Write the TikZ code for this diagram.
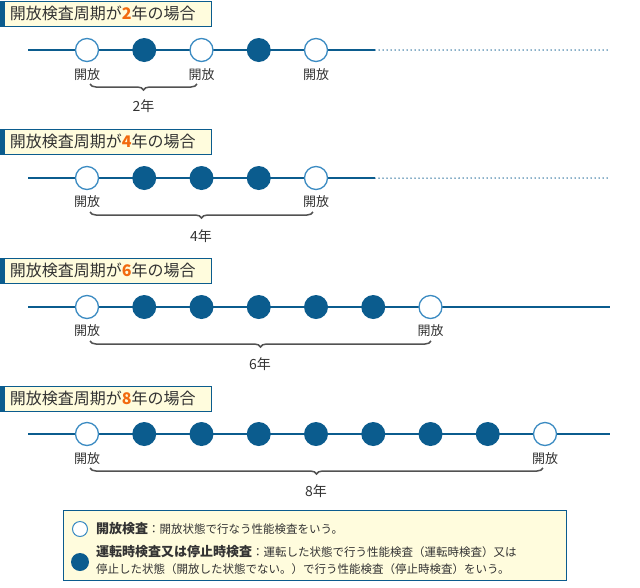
\documentclass[tikz,border=0pt]{standalone}
\usepackage{fontspec}
\setmainfont{Noto Sans CJK JP}
\usetikzlibrary{decorations.pathreplacing}
\definecolor{dblue}{HTML}{0B5C8E}
\definecolor{lblue}{HTML}{3B8BC2}
\definecolor{hfill}{HTML}{FFFCDD}
\definecolor{ora}{HTML}{F26A10}
\definecolor{txt}{HTML}{333333}
\tikzset{
 hdr/.style={draw=dblue,fill=hfill,line width=0.8pt,minimum height=25pt,anchor=north west,inner sep=0pt,font=\fontsize{16}{16}\selectfont,text=txt},
 opn/.style={circle,draw=lblue,fill=white,line width=1.3pt,minimum size=23pt,inner sep=0pt},
 cls/.style={circle,fill=dblue,minimum size=24pt,inner sep=0pt},
 tl/.style={draw=dblue,line width=1.3pt},
 tld/.style={draw=dblue,line width=1.5pt,line cap=round,dash pattern=on 0pt off 4pt},
 lbl/.style={font=\fontsize{13}{13}\selectfont,text=txt},
 brc/.style={draw=txt!85,line width=1.5pt,decorate,decoration={brace,mirror,amplitude=6pt}},
}
\newcommand{\hd}[3]{\node[hdr,text width=206pt,minimum width=211pt,align=left] (#1) at (0,#2) {\hspace{7pt}開放検査周期が\textcolor{ora}{\textbf{#3}}年の場合};
 \fill[dblue] (0,#2) rectangle (5,#2+25);}
\begin{document}
\begin{tikzpicture}[x=1pt,y=-1pt]
\useasboundingbox (0,0) rectangle (640,587);
% row 1
\hd{h1}{1}{2}
\coordinate (s1) at (28,50); \coordinate (m1) at (375,50); \coordinate (e1) at (610,50);
\draw[tl] (s1) -- (m1); \draw[tld] (m1) -- (e1);
\foreach \i/\t in {0/opn,1/cls,2/opn,3/cls,4/opn} \node[\t] (r1c\i) at (87+57.25*\i,50) {};
\foreach \i in {0,2,4} \node[lbl] (r1l\i) at (87+57.25*\i,75) {開放};
\coordinate (b1a) at (90,84); \coordinate (b1b) at (197,84);
\draw[brc] (b1a) -- (b1b);
\node[lbl,font=\fontsize{14}{14}\selectfont] (y1) at (143.5,106) {2年};
% row 2
\hd{h2}{129}{4}
\coordinate (s2) at (28,178); \coordinate (m2) at (375,178); \coordinate (e2) at (610,178);
\draw[tl] (s2) -- (m2); \draw[tld] (m2) -- (e2);
\foreach \i/\t in {0/opn,1/cls,2/cls,3/cls,4/opn} \node[\t] (r2c\i) at (87+57.25*\i,178) {};
\foreach \i in {0,4} \node[lbl] (r2l\i) at (87+57.25*\i,202) {開放};
\coordinate (b2a) at (90,212); \coordinate (b2b) at (313,212);
\draw[brc] (b2a) -- (b2b);
\node[lbl,font=\fontsize{14}{14}\selectfont] (y2) at (201,236) {4年};
% row 3
\hd{h3}{258}{6}
\coordinate (s3) at (28,307); \coordinate (e3) at (610,307);
\draw[tl] (s3) -- (e3);
\foreach \i/\t in {0/opn,1/cls,2/cls,3/cls,4/cls,5/cls,6/opn} \node[\t] (r3c\i) at (87+57.25*\i,307) {};
\foreach \i in {0,6} \node[lbl] (r3l\i) at (87+57.25*\i,331) {開放};
\coordinate (b3a) at (90,341); \coordinate (b3b) at (431,341);
\draw[brc] (b3a) -- (b3b);
\node[lbl,font=\fontsize{14}{14}\selectfont] (y3) at (260,364) {6年};
% row 4
\hd{h4}{386}{8}
\coordinate (s4) at (28,434); \coordinate (e4) at (610,434);
\draw[tl] (s4) -- (e4);
\foreach \i/\t in {0/opn,1/cls,2/cls,3/cls,4/cls,5/cls,6/cls,7/cls,8/opn} \node[\t] (r4c\i) at (87+57.25*\i,434) {};
\foreach \i in {0,8} \node[lbl] (r4l\i) at (87+57.25*\i,459) {開放};
\coordinate (b4a) at (90,468); \coordinate (b4b) at (543,468);
\draw[brc] (b4a) -- (b4b);
\node[lbl,font=\fontsize{14}{14}\selectfont] (y4) at (316,491) {8年};
% legend
\node[draw=dblue,fill=hfill,line width=0.8pt,minimum width=503pt,minimum height=70pt,anchor=north west,inner sep=0pt] (leg) at (63,510) {};
\node[opn,minimum size=15pt,line width=1pt] (lo) at (80,529) {};
\node[cls,minimum size=18pt] (lc) at (80,562) {};
\node[anchor=west,inner sep=0pt,font=\fontsize{11.5}{11.5}\selectfont,text=txt] (t1) at (96,529) {{\fontsize{13}{13}\selectfont\textbf{開放検査}}：開放状態で行なう性能検査をいう。};
\node[anchor=north west,inner sep=0pt,font=\fontsize{11.5}{17}\selectfont,text=txt,align=left] (t2) at (96,545) {{\fontsize{13}{13}\selectfont\textbf{運転時検査又は停止時検査}}：運転した状態で行う性能検査（運転時検査）又は\\停止した状態（開放した状態でない。）で行う性能検査（停止時検査）をいう。};
\end{tikzpicture}
\end{document}
